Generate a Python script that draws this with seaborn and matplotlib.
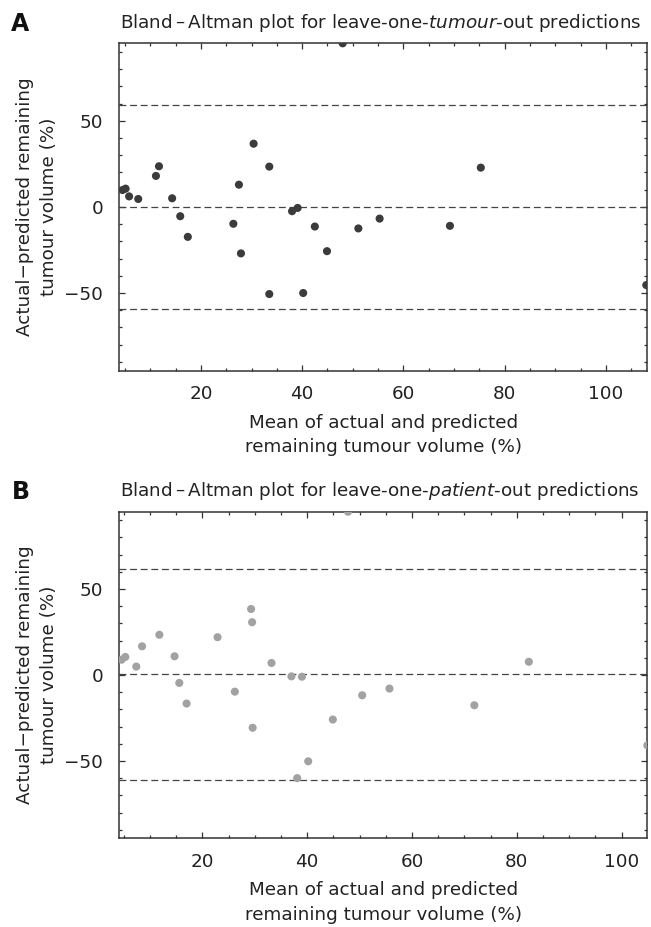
import numpy as np
import pandas as pd
import seaborn as sns
import matplotlib.pyplot as plt
from matplotlib.ticker import MultipleLocator

# values
tumour_mean = [4.5, 5.1, 5.8, 7.6, 11.1, 11.7, 14.3, 15.9, 17.4, 26.4, 27.5, 27.9, 30.4,
               33.5, 33.5, 38.0, 39.1, 40.2, 42.5, 44.9, 48.0, 51.1, 55.3, 69.2, 75.3, 108.0]
tumour_diff = [9.8, 10.6, 6.1, 4.6, 18.0, 23.6, 5.0, -5.4, -17.4, -9.8, 12.9, -27.0, 36.7,
               23.4, -50.6, -2.5, -0.6, -50.0, -11.4, -25.7, 95.0, -12.5, -6.8, -11.0, 22.8, -45.4]
tumour_lines = [-0.1, 59.3, -59.5]

patient_mean = [4.6, 5.3, 7.4, 8.5, 11.8, 14.7, 15.6, 17.0, 22.9, 26.2, 29.3, 29.5, 29.6,
                33.2, 37.0, 39.0, 38.1, 40.2, 44.9, 47.8, 50.5, 55.7, 71.9, 82.3, 104.9]
patient_diff = [8.9, 10.5, 4.9, 16.7, 23.4, 10.9, -4.6, -16.6, 22.0, -9.7, 38.4, 30.7, -30.7,
                7.0, -0.8, -1.0, -60.0, -50.2, -25.9, 95.0, -11.8, -7.9, -17.6, 7.7, -40.9]
patient_lines = [0.3, 61.4, -60.8]

sns.set_style("ticks")
plt.rcParams['font.family'] = ['DejaVu Sans']
plt.rcParams['mathtext.fontset'] = 'dejavusans'

FS = 13.2
fig = plt.figure(figsize=(6.51, 9.27), dpi=100)
W, H = 651, 927

panels = [
    ("A", tumour_mean, tumour_diff, tumour_lines, "#3b3b3b", (3.8, 108.2), 43.3, 370.5,
     r"Bland$\,$–$\,$Altman plot for leave-one-$\mathit{tumour}$-out predictions"),
    ("B", patient_mean, patient_diff, patient_lines, "#a2a2a2", (4.1, 104.9), 511.7, 838.3,
     r"Bland$\,$–$\,$Altman plot for leave-one-$\mathit{patient}$-out predictions"),
]

for letter, xs, ys, lines, col, xlim, top, bot, title in panels:
    ax = fig.add_axes([119 / W, 1 - bot / H, 528.3 / W, (bot - top) / H])
    df = pd.DataFrame({"mean": xs, "diff": ys})
    for yv in lines:
        ax.axhline(yv, color="#444444", lw=0.9, ls=(0, (5.5, 3)), zorder=1)
    sns.scatterplot(data=df, x="mean", y="diff", ax=ax, color=col, s=34,
                    edgecolor="none", zorder=3)
    ax.set_xlim(*xlim)
    ax.set_ylim(-95, 95)
    ax.set_xticks([20, 40, 60, 80, 100])
    ax.set_yticks([-50, 0, 50])
    ax.xaxis.set_minor_locator(MultipleLocator(5))
    ax.yaxis.set_minor_locator(MultipleLocator(10))
    ax.tick_params(which="both", direction="in", top=True, right=True,
                   color="#333333", width=0.9, labelsize=FS, labelcolor="#222222")
    ax.tick_params(which="major", length=4.5)
    ax.tick_params(which="minor", length=2.5)
    ax.tick_params(axis="x", pad=10.5)
    ax.tick_params(axis="y", pad=11.5)
    for sp in ax.spines.values():
        sp.set_color("#333333")
        sp.set_linewidth(1.1)
    ax.set_xlabel("Mean of actual and predicted\nremaining tumour volume (%)",
                  fontsize=FS, color="#222222", linespacing=1.45)
    ax.set_ylabel("Actual\u2212predicted remaining\ntumour volume (%)",
                  fontsize=FS, color="#222222", linespacing=1.38)
    ax.xaxis.set_label_coords(0.5, -0.132)
    ax.yaxis.set_label_coords(-0.116, 0.5)
    fig.text(120.5 / W, 1 - (top - 20.6) / H, title, fontsize=FS, color="#222222",
             ha="left", va="center")
    fig.text(20.5 / W, 1 - (top - 19.3) / H, letter, fontsize=17, fontweight="bold",
             ha="center", va="center", color="#111111")

fig.savefig("out.png", dpi=100)
